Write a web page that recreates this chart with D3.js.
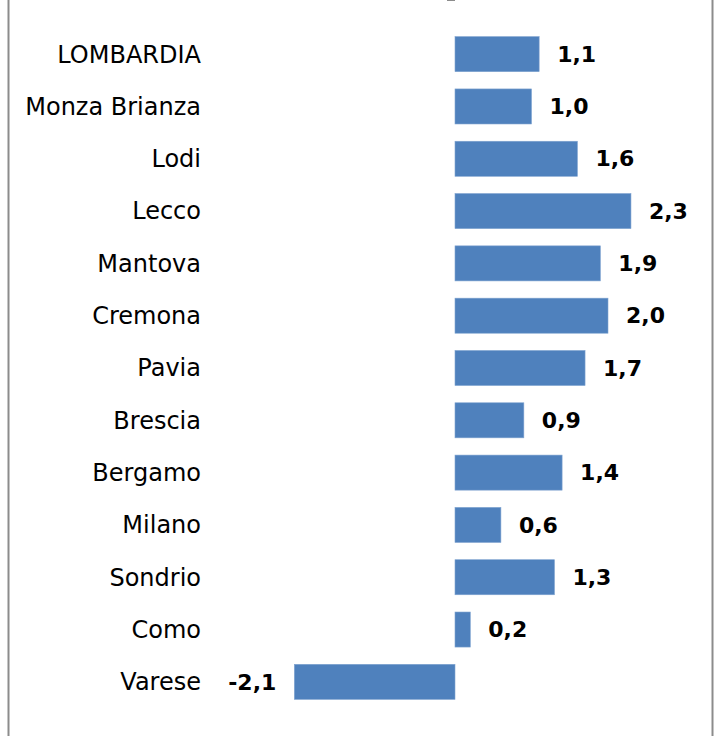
<!DOCTYPE html>
<html>
<head>
<meta charset="utf-8">
<script src="https://cdn.jsdelivr.net/npm/d3@7"></script>
<style>
  body { margin: 0; background: #fff; }
  svg { display: block; font-family: "DejaVu Sans", Verdana, sans-serif; }
</style>
</head>
<body>
<svg width="715" height="736"></svg>
<script>
// categories top to bottom, values as printed on the bars
var province = ["LOMBARDIA", "Monza Brianza", "Lodi", "Lecco", "Mantova", "Cremona", "Pavia",
                "Brescia", "Bergamo", "Milano", "Sondrio", "Como", "Varese"];
var variazione = [1.1, 1.0, 1.6, 2.3, 1.9, 2.0, 1.7, 0.9, 1.4, 0.6, 1.3, 0.2, -2.1];

var svg = d3.select("svg");

var data = province.map(function(p, i) { return {name: p, value: variazione[i]}; });

// outer frame of the chart area (top and bottom fall outside the picture)
svg.append("rect")
    .attr("x", 8.5).attr("y", -10)
    .attr("width", 704).attr("height", 760)
    .attr("fill", "none")
    .attr("stroke", "#8c8c8c")
    .attr("stroke-width", 2);

var y = d3.scaleBand()
    .domain(province)
    .range([28, 708])
    .paddingInner(0.33)
    .paddingOuter(0.165);

var x = d3.scaleLinear()
    .domain([-2.1, 2.3])
    .range([455 - 2.1 * 76.5, 455 + 2.3 * 76.5]);

var fmt = function(v) { return d3.format(".1f")(v).replace(".", ",").replace("\u2212", "-"); };

// bars
svg.selectAll(".bar")
    .data(data)
  .enter().append("rect")
    .attr("class", "bar")
    .attr("x", function(d) { return x(Math.min(0, d.value)); })
    .attr("y", function(d) { return y(d.name); })
    .attr("width", function(d) { return Math.abs(x(d.value) - x(0)); })
    .attr("height", y.bandwidth())
    .attr("fill", "#4f81bd")
    .attr("stroke", "#7fa3d0")
    .attr("stroke-width", 0.6);

// vertical axis with ticks on the band boundaries
var step = y.step(),
    top = y.range()[0],
    ticks = d3.range(province.length + 1).map(function(i) { return top + i * step; });

var axis = svg.append("g").attr("stroke", "#8c8c8c").attr("stroke-width", 2);
axis.append("line")
    .attr("x1", x(0)).attr("x2", x(0))
    .attr("y1", top).attr("y2", top + province.length * step);
axis.selectAll(".tick")
    .data(ticks)
  .enter().append("line")
    .attr("x1", x(0) - 8).attr("x2", x(0))
    .attr("y1", function(d) { return d; })
    .attr("y2", function(d) { return d; });

// category labels
svg.selectAll(".cat")
    .data(province)
  .enter().append("text")
    .attr("x", 201)
    .attr("y", function(d) { return y(d) + y.bandwidth() / 2; })
    .attr("dy", "0.35em")
    .attr("text-anchor", "end")
    .attr("font-size", 24)
    .attr("fill", "#000")
    .text(function(d) { return d; });

// value labels
svg.selectAll(".val")
    .data(data)
  .enter().append("text")
    .attr("x", function(d) { return d.value < 0 ? x(d.value) - 18 : x(d.value) + 18; })
    .attr("y", function(d) { return y(d.name) + y.bandwidth() / 2; })
    .attr("dy", "0.35em")
    .attr("text-anchor", function(d) { return d.value < 0 ? "end" : "start"; })
    .attr("font-size", 22)
    .attr("font-weight", "bold")
    .attr("fill", "#000")
    .text(function(d) { return fmt(d.value); });
</script>
</body>
</html>
